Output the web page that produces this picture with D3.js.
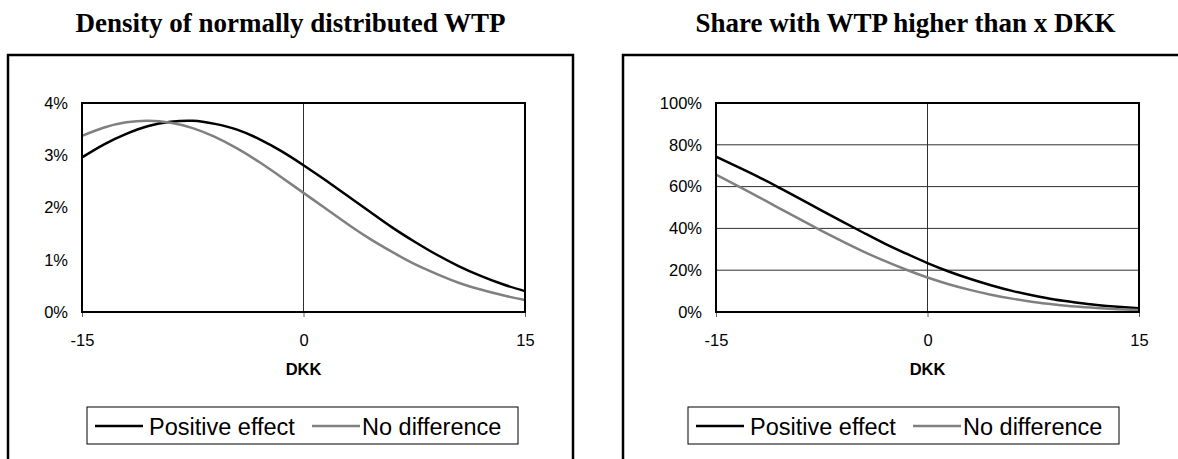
<!DOCTYPE html>
<html>
<head>
<meta charset="utf-8">
<script src="https://cdn.jsdelivr.net/npm/d3@7"></script>
<style>
  body { margin: 0; background: #fff; }
  svg { display: block; }
</style>
</head>
<body>
<div class="panel"></div>
<script>
// values, DKK from -15 to 15 in steps of 1.5
const dkk = [-15, -13.5, -12, -10.5, -9, -7.5, -6, -4.5, -3, -1.5, 0,
             1.5, 3, 4.5, 6, 7.5, 9, 10.5, 12, 13.5, 15];

// density, in %
const densityPositive = [2.96, 3.21, 3.41, 3.56, 3.64, 3.66, 3.60, 3.49, 3.31, 3.08, 2.81,
                         2.52, 2.22, 1.92, 1.62, 1.35, 1.10, 0.88, 0.69, 0.53, 0.40];
const densityNoDiff   = [3.37, 3.53, 3.63, 3.66, 3.62, 3.52, 3.35, 3.13, 2.87, 2.58, 2.28,
                         1.98, 1.68, 1.40, 1.15, 0.92, 0.73, 0.56, 0.43, 0.32, 0.23];

// share with WTP higher than x, in %
const sharePositive = [74.3, 69.6, 64.7, 59.4, 54.0, 48.5, 43.1, 37.8, 32.6, 27.9, 23.4,
                       19.4, 15.9, 12.8, 10.1, 7.9, 6.0, 4.6, 3.4, 2.5, 1.8];
const shareNoDiff   = [65.7, 60.5, 55.1, 49.6, 44.2, 38.8, 33.7, 28.8, 24.3, 20.2, 16.5,
                       13.3, 10.6, 8.3, 6.4, 4.8, 3.6, 2.6, 1.9, 1.35, 0.94];

const xTicks = [-15, 0, 15];
const densityTicks = [0, 1, 2, 3, 4];
const shareTicks = [0, 20, 40, 60, 80, 100];
const seriesNames = ["Positive effect", "No difference"];
const seriesColors = ["#000000", "#808080"];

const width = 1178;
const height = 459;

const svg = d3.select(".panel")
  .append("svg")
  .attr("width", width)
  .attr("height", height);

function drawChart(opt) {
  const g = svg.append("g");

  // outer frame (runs off the bottom of the picture)
  g.append("rect")
    .attr("x", opt.frameX)
    .attr("y", 55)
    .attr("width", 565)
    .attr("height", 440)
    .attr("fill", "none")
    .attr("stroke", "#000")
    .attr("stroke-width", 2.5);

  g.append("text")
    .attr("x", opt.frameX + 282.5)
    .attr("y", 32)
    .attr("text-anchor", "middle")
    .style("font-family", "'Liberation Serif', 'Times New Roman', serif")
    .style("font-weight", "bold")
    .style("font-size", "27px")
    .text(opt.title);

  const xScale = d3.scaleLinear()
    .domain([-15, 15])
    .range([opt.left, opt.right]);

  const yScale = d3.scaleLinear()
    .domain([0, d3.max(opt.yTicks)])
    .range([312, 103]);

  // gridlines
  if (opt.grid) {
    g.append("g")
      .selectAll("line")
      .data(opt.yTicks.slice(1, -1))
      .join("line")
      .attr("x1", opt.left)
      .attr("x2", opt.right)
      .attr("y1", d => yScale(d))
      .attr("y2", d => yScale(d))
      .attr("stroke", "#303030")
      .attr("stroke-width", 1);
  }

  // vertical line at 0
  g.append("line")
    .attr("x1", xScale(0))
    .attr("x2", xScale(0))
    .attr("y1", 103)
    .attr("y2", 312)
    .attr("stroke", "#303030")
    .attr("stroke-width", 1);

  const xAxis = d3.axisBottom(xScale)
    .tickValues(xTicks)
    .tickSize(5)
    .tickPadding(17)
    .tickFormat(d => String(d));

  const yAxis = d3.axisLeft(yScale)
    .tickValues(opt.yTicks)
    .tickSize(0)
    .tickPadding(14)
    .tickFormat(d => d + "%");

  const gx = g.append("g")
    .attr("transform", "translate(0,312)")
    .call(xAxis);
  gx.select(".domain").remove();
  gx.selectAll("line").attr("stroke", "#606060");
  gx.selectAll("text")
    .style("font-family", "Arial, 'Liberation Sans', sans-serif")
    .style("font-size", "16.5px")
    .attr("fill", "#000");

  const gy = g.append("g")
    .attr("transform", "translate(" + opt.left + ",0)")
    .call(yAxis);
  gy.select(".domain").remove();
  gy.selectAll("text")
    .style("font-family", "Arial, 'Liberation Sans', sans-serif")
    .style("font-size", "16.5px")
    .attr("fill", "#000");

  g.append("text")
    .attr("x", (opt.left + opt.right) / 2)
    .attr("y", 375)
    .attr("text-anchor", "middle")
    .style("font-family", "Arial, 'Liberation Sans', sans-serif")
    .style("font-weight", "bold")
    .style("font-size", "16.5px")
    .text("DKK");

  const line = d3.line()
    .x((d, i) => xScale(dkk[i]))
    .y(d => yScale(d))
    .curve(d3.curveNatural);

  opt.series.forEach((s, i) => {
    g.append("path")
      .datum(s)
      .attr("d", line)
      .attr("fill", "none")
      .attr("stroke", seriesColors[i])
      .attr("stroke-width", 2.5);
  });

  // plot area border
  g.append("rect")
    .attr("x", opt.left)
    .attr("y", 103)
    .attr("width", opt.right - opt.left)
    .attr("height", 209)
    .attr("fill", "none")
    .attr("stroke", "#000")
    .attr("stroke-width", 2);

  // legend
  const lg = g.append("g").attr("transform", "translate(" + opt.legendX + ",407)");
  lg.append("rect")
    .attr("width", 431)
    .attr("height", 37)
    .attr("fill", "#fff")
    .attr("stroke", "#000")
    .attr("stroke-width", 1);
  const items = [{x: 8, tx: 62}, {x: 225, tx: 275}];
  items.forEach((it, i) => {
    lg.append("line")
      .attr("x1", it.x)
      .attr("x2", it.x + 48)
      .attr("y1", 19)
      .attr("y2", 19)
      .attr("stroke", seriesColors[i])
      .attr("stroke-width", 2.5);
    lg.append("text")
      .attr("x", it.tx)
      .attr("y", 27.5)
      .style("font-family", "Arial, 'Liberation Sans', sans-serif")
      .style("font-size", "23.5px")
      .text(seriesNames[i]);
  });
}

drawChart({
  title: "Density of normally distributed WTP",
  frameX: 8,
  left: 82,
  right: 525,
  legendX: 87,
  yTicks: densityTicks,
  grid: false,
  series: [densityPositive, densityNoDiff]
});

drawChart({
  title: "Share with WTP higher than x DKK",
  frameX: 623,
  left: 716,
  right: 1139,
  legendX: 688,
  yTicks: shareTicks,
  grid: true,
  series: [sharePositive, shareNoDiff]
});
</script>
</body>
</html>
